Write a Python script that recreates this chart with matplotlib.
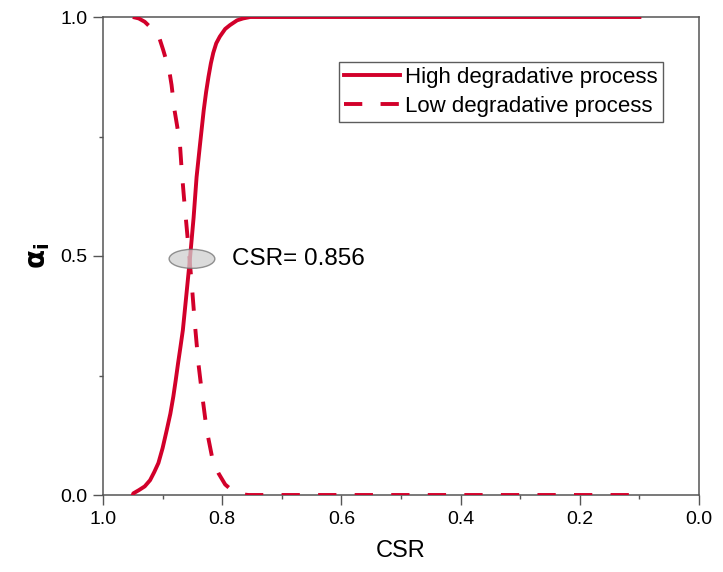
import matplotlib
matplotlib.use("Agg")
import matplotlib.pyplot as plt
from matplotlib.patches import Ellipse
from matplotlib.ticker import MultipleLocator

plt.rcParams['font.family'] = ['Liberation Sans', 'DejaVu Sans']
plt.rcParams['mathtext.fontset'] = 'dejavusans'

# High degradative process (solid)
csr_high = [0.95, 0.949, 0.94, 0.93, 0.921, 0.914, 0.907, 0.90, 0.893, 0.887,
            0.882, 0.878, 0.874, 0.870, 0.866, 0.860, 0.854, 0.848, 0.843, 0.837,
            0.831, 0.827, 0.823, 0.819, 0.815, 0.810, 0.804, 0.795, 0.787, 0.775,
            0.765, 0.753, 0.70, 0.60, 0.50, 0.40, 0.30, 0.20, 0.10]
alpha_high = [0.0, 0.0035, 0.010, 0.018, 0.031, 0.048, 0.067, 0.098, 0.136, 0.170,
              0.206, 0.240, 0.276, 0.31, 0.345, 0.42, 0.496, 0.58, 0.665, 0.736,
              0.805, 0.843, 0.875, 0.903, 0.925, 0.945, 0.959, 0.975, 0.983, 0.993,
              0.997, 1.0, 1.0, 1.0, 1.0, 1.0, 1.0, 1.0, 1.0]

# Low degradative process (dashed)
csr_low = [0.95, 0.94, 0.93, 0.92, 0.907, 0.899, 0.889, 0.885, 0.880, 0.876,
           0.871, 0.868, 0.864, 0.860, 0.855, 0.851, 0.846, 0.840, 0.834, 0.826,
           0.816, 0.806, 0.795, 0.781, 0.770, 0.756, 0.70, 0.60, 0.50, 0.40,
           0.30, 0.20, 0.10]
alpha_low = [1.0, 0.997, 0.99, 0.978, 0.962, 0.931, 0.889, 0.858, 0.805, 0.775,
             0.736, 0.68, 0.62, 0.565, 0.496, 0.44, 0.36, 0.276, 0.213, 0.136,
             0.073, 0.045, 0.022, 0.007, 0.002, 0.0, 0.0, 0.0, 0.0, 0.0,
             0.0, 0.0, 0.0]

labels = ["High degradative process", "Low degradative process"]
cross_csr = 0.856
red = '#d2002a'

fig = plt.figure(figsize=(7.23, 5.72), dpi=100)
ax = fig.add_axes([103/723, 1-495/572, 596/723, 478/572])

ax.plot(csr_high, alpha_high, color=red, lw=2.8, label=labels[0], zorder=3)
ax.plot(csr_low, alpha_low, color=red, lw=2.8, dashes=(4.7, 4.7), label=labels[1], zorder=3)

ell = Ellipse((0.8507, 0.494), 0.0767, 0.0397, facecolor='#d0d0d0', edgecolor='#707070',
              lw=1.0, alpha=0.75, zorder=4)
ax.add_patch(ell)
ax.text(0.784, 0.494, f"CSR= {cross_csr}", fontsize=17.5, va='center', ha='left', color='black')

ax.set_xlim(1.0, 0.0)
ax.set_ylim(0.0, 1.0)
ax.xaxis.set_major_locator(MultipleLocator(0.2))
ax.xaxis.set_minor_locator(MultipleLocator(0.1))
ax.yaxis.set_major_locator(MultipleLocator(0.5))
ax.yaxis.set_minor_locator(MultipleLocator(0.25))
ax.xaxis.set_major_formatter(matplotlib.ticker.FormatStrFormatter('%.1f'))
ax.yaxis.set_major_formatter(matplotlib.ticker.FormatStrFormatter('%.1f'))
ax.tick_params(which='major', direction='out', length=7.2, width=1, color='#555555',
               labelsize=14, pad=4, top=False, right=False)
ax.tick_params(which='minor', direction='out', length=3.2, width=1, color='#555555',
               top=False, right=False)
for s in ax.spines.values():
    s.set_color('#555555')
    s.set_linewidth(1.1)

ax.set_xlabel("CSR", fontsize=17, labelpad=9)
ax.set_ylabel(r"$\mathbf{\alpha_i}$", fontsize=20, labelpad=6)

leg = ax.legend(loc='upper right', bbox_to_anchor=(663/723, 1-62/572),
                bbox_transform=fig.transFigure, fontsize=16, frameon=True,
                fancybox=False, handlelength=2.5, handletextpad=0.25,
                labelspacing=0.35, borderpad=0.22, borderaxespad=0)
leg.get_frame().set_edgecolor('#333333')
leg.get_frame().set_linewidth(1.0)

fig.savefig("out.png", dpi=100)
